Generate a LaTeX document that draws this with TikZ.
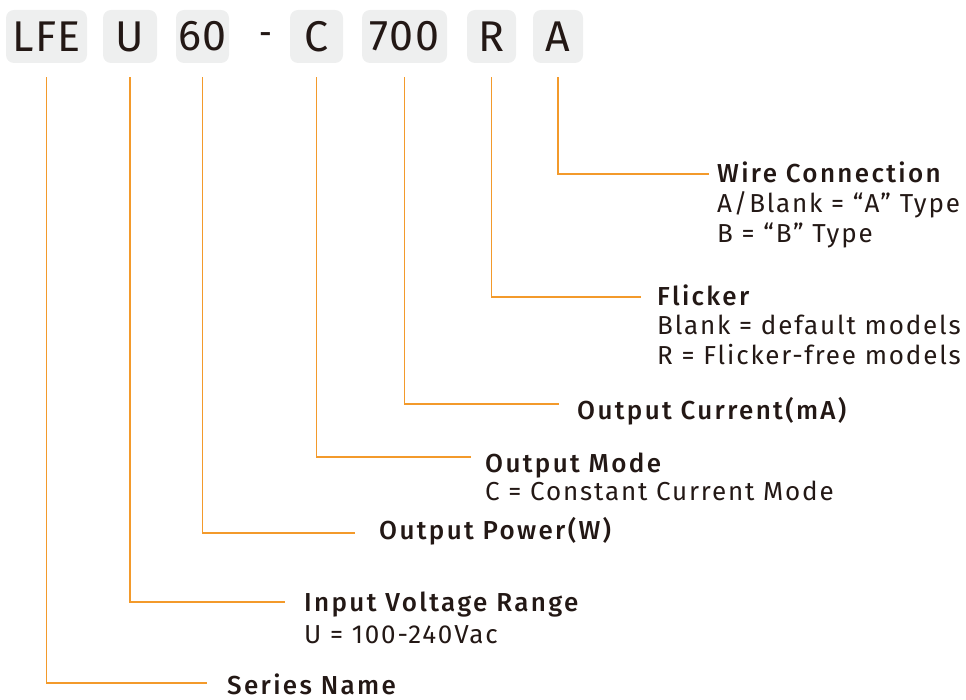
\documentclass[tikz,border=0pt]{standalone}
\usepackage{fontspec}
\setmainfont[LetterSpace=7,BoldFont={Fira Sans Medium},BoldFeatures={LetterSpace=9}]{Fira Sans}
\usepackage{xcolor}
\usepackage{tikz}
\usetikzlibrary{positioning,calc}
\definecolor{leadorange}{HTML}{F39A2B}
\definecolor{boxgray}{HTML}{EEEFEF}
\definecolor{inkdark}{HTML}{231815}
\newcommand{\bigcode}{\fontsize{43}{43}\selectfont\addfontfeature{LetterSpace=4}}
\newcommand{\lbl}{\fontsize{26}{30}\selectfont}

\begin{document}
\begin{tikzpicture}[x=1pt,y=-1pt,
  codebox/.style={fill=boxgray,rounded corners=8pt,minimum height=53pt,inner sep=0pt,font=\bigcode,text=inkdark},
  lead/.style={draw=leadorange,line width=1.4pt},
  head/.style={anchor=base west,font=\lbl\bfseries,text=inkdark,inner sep=0pt},
  desc/.style={anchor=base west,font=\lbl,text=inkdark,inner sep=0pt}]

  \useasboundingbox (0,0) rectangle (966,700);

  % the code boxes
  \node[codebox,minimum width=81pt] (lfe) at (46.5,36.5) {LFE};
  \node[codebox,minimum width=54pt] (u) at (130,36.5) {U};
  \node[codebox,minimum width=53pt] (sixty) at (202.5,36.5) {60};
  \node[anchor=base,inner sep=0pt,font=\fontsize{30}{30}\selectfont\bfseries,text=inkdark] (dash) at (265.5,44) {-};
  \node[codebox,minimum width=53pt] (c) at (316.5,36.5) {C};
  \node[codebox,minimum width=85pt] (seven) at (404.5,36.5) {700};
  \node[codebox,minimum width=49pt] (r) at (491.5,36.5) {R};
  \node[codebox,minimum width=50pt] (a) at (558,36.5) {A};

  % line ends
  \coordinate (aend) at (709,174);
  \coordinate (rend) at (641,297);
  \coordinate (sevenend) at (559,404);
  \coordinate (cend) at (471,457);
  \coordinate (sixtyend) at (355,533);
  \coordinate (uend) at (285,602);
  \coordinate (lfeend) at (207,683);

  \node[head] (wire) at (717,183) {Wire Connection};
  \node[desc] (wire1) at (717,213) {A/Blank = “A” Type};
  \node[desc] (wire2) at (717,243) {B = “B” Type};

  \node[head] (flick) at (657,306) {Flicker};
  \node[desc] (flick1) at (657,335) {Blank = default models};
  \node[desc] (flick2) at (657,364) {R = Flicker-free models};

  \node[head] (cur) at (577,419) {Output Current(mA)};

  \node[head] (mode) at (485,472) {Output Mode};
  \node[desc] (mode1) at (485,500) {C = Constant Current Mode};

  \node[head] (pow) at (379,539) {Output Power(W)};

  \node[head] (volt) at (304,611) {Input Voltage Range};
  \node[desc] (volt1) at (304,643) {U = 100-240Vac};

  \node[head] (ser) at (227,694) {Series Name};

  \draw[lead] ([yshift=-14pt]a.south) |- (aend);
  \draw[lead] ([yshift=-14pt]r.south) |- (rend);
  \draw[lead] ([yshift=-14pt]seven.south) |- (sevenend);
  \draw[lead] ([yshift=-14pt]c.south) |- (cend);
  \draw[lead] ([yshift=-14pt]sixty.south) |- (sixtyend);
  \draw[lead] ([yshift=-14pt]u.south) |- (uend);
  \draw[lead] ([yshift=-14pt]lfe.south) |- (lfeend);

\end{tikzpicture}
\end{document}
